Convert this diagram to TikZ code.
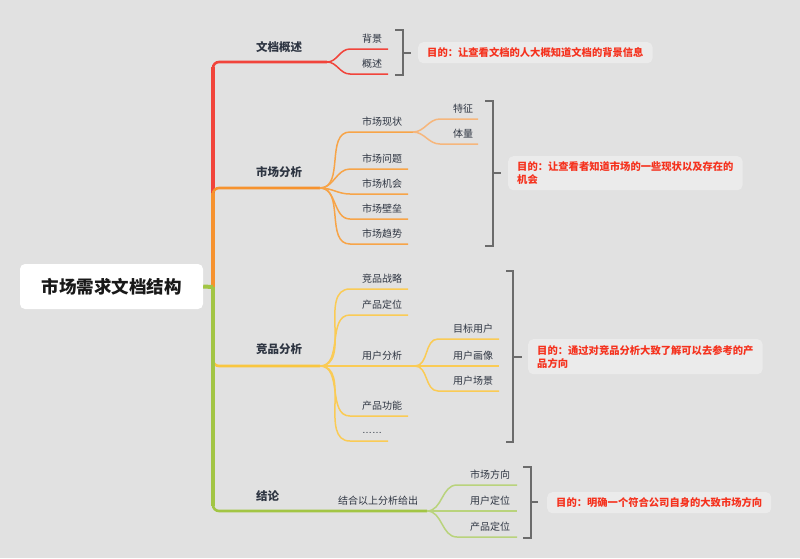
\documentclass[tikz,border=0pt]{standalone}
\usepackage{fontspec}
\usetikzlibrary{calc}
\setmainfont{Noto Sans CJK SC}
\newfontfamily\latinfont{Liberation Sans}
\definecolor{bg}{HTML}{E1E1E1}
\definecolor{redb}{HTML}{F1443B}
\definecolor{orangeb}{HTML}{F6922E}
\definecolor{orangesub}{HTML}{F7A448}
\definecolor{orangesubsub}{HTML}{F6B67C}
\definecolor{yellowb}{HTML}{F9C63F}
\definecolor{yellowsub}{HTML}{FACB55}
\definecolor{greenb}{HTML}{A2C544}
\definecolor{greensub}{HTML}{B9D37C}
\definecolor{txt}{HTML}{2E3542}
\definecolor{brkc}{HTML}{6B6B6B}
\definecolor{notebg}{HTML}{EBEBEB}
\definecolor{notetxt}{HTML}{F5321E}
\begin{document}
\begin{tikzpicture}[x=1pt,y=-1pt,
  sublbl/.style={text=txt, font=\fontsize{10}{12}\selectfont, inner sep=0pt, anchor=west},
  mainlbl/.style={text=txt, font=\fontsize{11.5}{14}\selectfont\bfseries, inner sep=0pt, anchor=west},
  rootbox/.style={fill=white, rounded corners=5pt, minimum width=183pt, minimum height=45pt, inner sep=0pt,
    text=black!90, font=\fontsize{17.5}{20}\selectfont\bfseries},
  notebox/.style={fill=notebg, rounded corners=5pt, text=notetxt, font=\fontsize{10.3}{13}\selectfont\bfseries,
    align=left, inner xsep=9pt, inner ysep=0pt, anchor=north west},
  brk/.style={draw=brkc, line width=1.5pt},
  trunk/.style={line width=3.8pt},
  branch/.style={line width=2.6pt, rounded corners=6pt},
  sub/.style={line width=1.5pt},
]
\useasboundingbox (0,0) rectangle (800,558);
\fill[bg] (0,0) rectangle (800,558);

% root
\node[rootbox] (root) at (111.5,286.5) {市场需求文档结构};
\coordinate (T) at (213,287);
\coordinate (c1) at (327,62);
\coordinate (c2) at (320,188);
\coordinate (c3) at (320,366);
\coordinate (c4) at (427,511);

% main branches
\draw[redb, branch] (T) -- (T |- c1) -- (c1);
\draw[redb, trunk] (T) -- ($(T |- c1)+(0,5)$);
\draw[orangeb, branch] (T) -- (T |- c2) -- (c2);
\draw[orangeb, trunk] (T) -- ($(T |- c2)+(0,5)$);
\draw[yellowb, branch] (T) -- (T |- c3) -- (c3);
\draw[yellowb, trunk] (T) -- ($(T |- c3)+(0,-5)$);
\draw[greenb, branch] (T) -- (T |- c4) -- (c4);
\draw[greenb, trunk] (T) -- ($(T |- c4)+(0,-5)$);
\draw[greenb, line width=4pt] (root.east) -- (T);

% main labels
\node[mainlbl] (l1) at (256,47) {文档概述};
\node[mainlbl] (l2) at (256,172) {市场分析};
\node[mainlbl] (l3) at (256,349) {竞品分析};
\node[mainlbl] (l4) at (256,496) {结论};

% branch 1 children
\foreach \n/\y/\t in {11/49/背景, 12/74/概述} {
  \node[sublbl] (l\n) at (362,\y-10) {\t};
  \coordinate (s\n) at (350,\y);
  \coordinate (e\n) at (388,\y);
  \draw[redb, sub] (c1) to[out=0,in=180] (s\n) -- (e\n);
}

% branch 2 children
\foreach \n/\y/\e/\t in {21/132/413/市场现状, 22/169/408/市场问题, 23/194/408/市场机会, 24/219/408/市场壁垒, 25/244/408/市场趋势} {
  \node[sublbl] (l\n) at (362,\y-10) {\t};
  \coordinate (s\n) at (350,\y);
  \coordinate (e\n) at (\e,\y);
  \draw[orangesub, sub] (c2) to[out=0,in=180] (s\n) -- (e\n);
}
\foreach \n/\y/\t in {211/119/特征, 212/144/体量} {
  \node[sublbl] (l\n) at (453,\y-10) {\t};
  \coordinate (s\n) at (440,\y);
  \coordinate (e\n) at (478,\y);
  \draw[orangesubsub, sub] (e21) to[out=0,in=180] (s\n) -- (e\n);
}

% branch 3 children
\foreach \n/\y/\e/\t in {31/289/408/竞品战略, 32/315/408/产品定位, 33/366/415/用户分析, 34/416/408/产品功能} {
  \node[sublbl] (l\n) at (362,\y-10) {\t};
  \coordinate (s\n) at (350,\y);
  \coordinate (e\n) at (\e,\y);
  \draw[yellowsub, sub] (c3) to[out=0,in=180] (s\n) -- (e\n);
}
\node[sublbl, font=\latinfont\fontsize{10}{12}\selectfont] (l35) at (362,433) {……};
\coordinate (s35) at (350,441);
\coordinate (e35) at (388,441);
\draw[yellowsub, sub] (c3) to[out=0,in=180] (s35) -- (e35);
\foreach \n/\y/\t in {331/339/目标用户, 332/366/用户画像, 333/391/用户场景} {
  \node[sublbl] (l\n) at (453,\y-10) {\t};
  \coordinate (s\n) at (438,\y);
  \coordinate (e\n) at (499,\y);
  \draw[yellowsub, sub] (e33) to[out=0,in=180] (s\n) -- (e\n);
}

% branch 4 children
\node[sublbl] (l41) at (338,501) {结合以上分析给出};
\foreach \n/\y/\t in {411/485/市场方向, 412/511/用户定位, 413/537/产品定位} {
  \node[sublbl] (l\n) at (470,\y-10) {\t};
  \coordinate (s\n) at (457,\y);
  \coordinate (e\n) at (517,\y);
  \draw[greensub, sub] (c4) to[out=0,in=180] (s\n) -- (e\n);
}

% brackets
\draw[brk] (395,30) -- (403,30) -- (403,75) -- (395,75);
\draw[brk] (403,53) -- (411,53);
\draw[brk] (485,101) -- (493,101) -- (493,246) -- (485,246);
\draw[brk] (493,173) -- (501,173);
\draw[brk] (506,271) -- (513,271) -- (513,442) -- (506,442);
\draw[brk] (513,357) -- (522,357);
\draw[brk] (523,467) -- (531,467) -- (531,538) -- (523,538);
\draw[brk] (531,502) -- (538,502);

% notes
\node[notebox, minimum width=234pt, minimum height=21pt] (note1) at (418,42) {目的：让查看文档的人大概知道文档的背景信息};
\node[notebox, minimum width=234pt, minimum height=34pt] (note2) at (508,156) {目的：让查看者知道市场的一些现状以及存在的\\机会};
\node[notebox, minimum width=234pt, minimum height=35pt] (note3) at (528,339) {目的：通过对竞品分析大致了解可以去参考的产\\品方向};
\node[notebox, minimum width=222pt, minimum height=21pt] (note4) at (547,492) {目的：明确一个符合公司自身的大致市场方向};
\end{tikzpicture}
\end{document}
